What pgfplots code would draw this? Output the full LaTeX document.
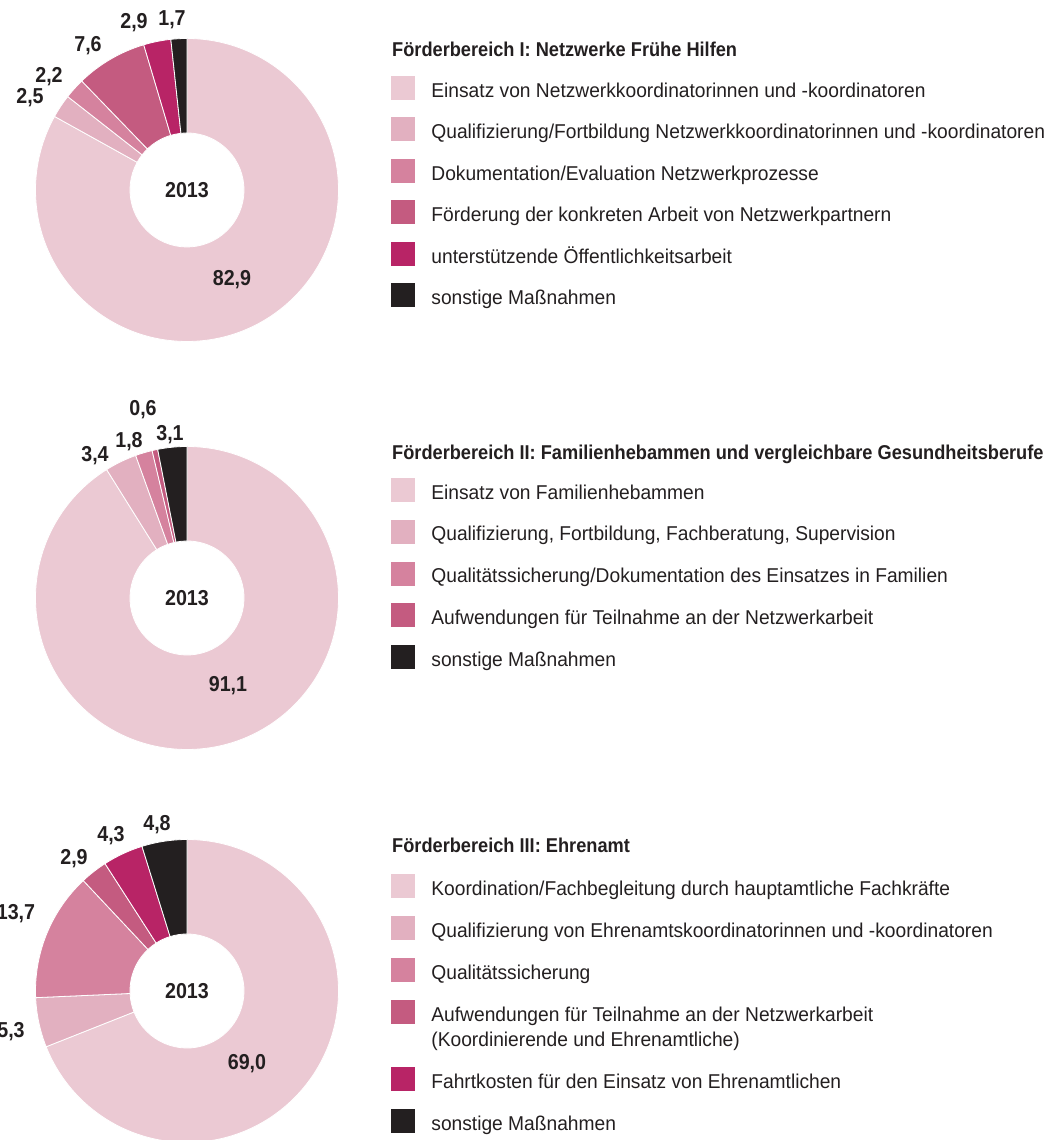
\documentclass[border=0pt]{standalone}
\usepackage{pgfplots}
\pgfplotsset{compat=1.18}
\usepackage{pgfplotstable}
\usepackage{fontspec}
\setmainfont{Liberation Sans}[FakeStretch=0.96, BoldFeatures={FakeStretch=0.91}]
\definecolor{pA}{HTML}{EBC9D3}
\definecolor{pB}{HTML}{E2B0C0}
\definecolor{pC}{HTML}{D5829E}
\definecolor{pD}{HTML}{C45B80}
\definecolor{pE}{HTML}{B82466}
\definecolor{pK}{HTML}{231F20}
\definecolor{txt}{HTML}{231F20}
\newcommand\legfont{\fontsize{20}{25}\selectfont}
\newcommand\labfont{\fontsize{21.6}{25}\selectfont\bfseries}
\newcommand\titfont{\fontsize{20}{24}\selectfont\bfseries}
\def\Ro{151.5}
\def\Ri{57}

% value, colour, label centre (x, y in picture pixels, y downward)
\pgfplotstableread{
v    c  lx  ly
82.9 pA 232 278
2.5  pB 30  96
2.2  pC 49  75
7.6  pD 88  44
2.9  pE 134 21
1.7  pK 172 18
}\dataI
\pgfplotstableread{
v    c  lx  ly
91.1 pA 228 684
3.4  pB 95  454
1.8  pC 129 440
0.6  pD 143 408
3.1  pK 170 433
}\dataII
\pgfplotstableread{
v    c  lx  ly
69.0 pA 247 1062
5.3  pB 11  1030
13.7 pC 16  912
2.9  pD 74  857
4.3  pE 111 834
4.8  pK 157 823
}\dataIII

\newcommand\donut[4]{%
  \pgfplotstablegetrowsof{#1}%
  \pgfmathtruncatemacro\lastrow{\pgfplotsretval-1}%
  \def\tot{0}%
  \pgfplotsforeachungrouped \k in {0,...,\lastrow}{%
    \pgfplotstablegetelem{\k}{v}\of{#1}%
    \pgfmathsetmacro\tot{\tot+\pgfplotsretval}%
  }%
  \pgfmathsetmacro\degper{360/\tot}%
  \pgfmathsetmacro\cy{1140-#3}%
  \def\astart{90}%
  \pgfplotsforeachungrouped \k in {0,...,\lastrow}{%
    \pgfplotstablegetelem{\k}{v}\of{#1}\let\val\pgfplotsretval
    \pgfplotstablegetelem{\k}{c}\of{#1}\let\col\pgfplotsretval
    \pgfplotstablegetelem{\k}{lx}\of{#1}\let\lx\pgfplotsretval
    \pgfplotstablegetelem{\k}{ly}\of{#1}\let\ly\pgfplotsretval
    \pgfmathsetmacro\aend{\astart-\degper*\val}%
    \pgfmathsetmacro\xa{#2+\Ro*cos(\astart)}%
    \pgfmathsetmacro\ya{\cy+\Ro*sin(\astart)}%
    \pgfmathsetmacro\xb{#2+\Ri*cos(\aend)}%
    \pgfmathsetmacro\yb{\cy+\Ri*sin(\aend)}%
    \pgfmathsetmacro\lyy{1140-\ly-7.6}%
    \edef\temp{\noexpand\fill[\col, draw=white, line width=0.8pt] (axis cs:\xa,\ya) arc[start angle=\astart, end angle=\aend, radius=\Ro pt] -- (axis cs:\xb,\yb) arc[start angle=\aend, end angle=\astart, radius=\Ri pt] -- cycle;
      \noexpand\node[anchor=base, inner sep=0pt, font=\noexpand\labfont, text=txt] at (axis cs:\lx,\lyy) {\noexpand\pgfmathprintnumber[fixed,fixed zerofill,precision=1,use comma,assume math mode=true]{\val}};}%
    \temp
    \let\astart\aend
  }%
  \pgfmathsetmacro\yy{\cy-7.6}%
  \edef\temp{\noexpand\node[anchor=base, inner sep=0pt, font=\noexpand\labfont, text=txt] at (axis cs:#2,\yy) {#4};}%
  \temp
}

\pgfplotsset{donutaxis/.style={at={(0pt,0pt)}, anchor=origin, x=1pt, y=1pt,
  xmin=0, xmax=1060, ymin=0, ymax=1140, hide axis, scale only axis, clip=false,
  legend image code/.code={\fill[##1] (0pt,-2pt) rectangle (23pt,21pt);},
  legend style={anchor=north west, draw=none, fill=none, inner sep=0pt, outer sep=0pt,
    row sep=12.8pt, column sep=17pt, font=\legfont, text=txt,
    cells={anchor=base west}, nodes={inner sep=0pt, outer sep=0pt, text depth=}}}}

\begin{document}
\begin{tikzpicture}
\useasboundingbox (0pt,0pt) rectangle (1060pt,1140pt);
\clip (0pt,0pt) rectangle (1060pt,1140pt);

\begin{axis}[donutaxis, legend style={at={(0.36887,0.93333)}}]
\donut{\dataI}{187}{190}{2013}
\node[anchor=base west, inner sep=0pt, font=\titfont, text=txt] at (axis cs:392,1083) {Förderbereich I: Netzwerke Frühe Hilfen};
\addlegendimage{pA}\addlegendentry{Einsatz von Netzwerkkoordinatorinnen und -koordinatoren\strut}
\addlegendimage{pB}\addlegendentry{Qualifizierung/Fortbildung Netzwerkkoordinatorinnen und -koordinatoren\strut}
\addlegendimage{pC}\addlegendentry{Dokumentation/Evaluation Netzwerkprozesse\strut}
\addlegendimage{pD}\addlegendentry{Förderung der konkreten Arbeit von Netzwerkpartnern\strut}
\addlegendimage{pE}\addlegendentry{unterstützende Öffentlichkeitsarbeit\strut}
\addlegendimage{pK}\addlegendentry{sonstige Maßnahmen\strut}
\end{axis}

\begin{axis}[donutaxis, legend style={at={(0.36887,0.58070)}, row sep=13.1pt}]
\donut{\dataII}{187}{598}{2013}
\node[anchor=base west, inner sep=0pt, font=\titfont, text=txt] at (axis cs:392,680) {Förderbereich II: Familienhebammen und vergleichbare Gesundheitsberufe};
\addlegendimage{pA}\addlegendentry{Einsatz von Familienhebammen\strut}
\addlegendimage{pB}\addlegendentry{Qualifizierung, Fortbildung, Fachberatung, Supervision\strut}
\addlegendimage{pC}\addlegendentry{Qualitätssicherung/Dokumentation des Einsatzes in Familien\strut}
\addlegendimage{pD}\addlegendentry{Aufwendungen für Teilnahme an der Netzwerkarbeit\strut}
\addlegendimage{pK}\addlegendentry{sonstige Maßnahmen\strut}
\end{axis}

\begin{axis}[donutaxis, legend style={at={(0.36887,0.23333)}, row sep=13.4pt}]
\donut{\dataIII}{187}{991}{2013}
\node[anchor=base west, inner sep=0pt, font=\titfont, text=txt] at (axis cs:392,287) {Förderbereich III: Ehrenamt};
\addlegendimage{pA}\addlegendentry{Koordination/Fachbegleitung durch hauptamtliche Fachkräfte\strut}
\addlegendimage{pB}\addlegendentry{Qualifizierung von Ehrenamtskoordinatorinnen und -koordinatoren\strut}
\addlegendimage{pC}\addlegendentry{Qualitätssicherung\strut}
\addlegendimage{pD}\addlegendentry{\begin{tabular}[t]{@{}l@{}}Aufwendungen für Teilnahme an der Netzwerkarbeit\tabularnewline (Koordinierende und Ehrenamtliche)\end{tabular}}
\addlegendimage{pE}\addlegendentry{Fahrtkosten für den Einsatz von Ehrenamtlichen\strut}
\addlegendimage{pK}\addlegendentry{sonstige Maßnahmen\strut}
\end{axis}
\end{tikzpicture}
\end{document}
